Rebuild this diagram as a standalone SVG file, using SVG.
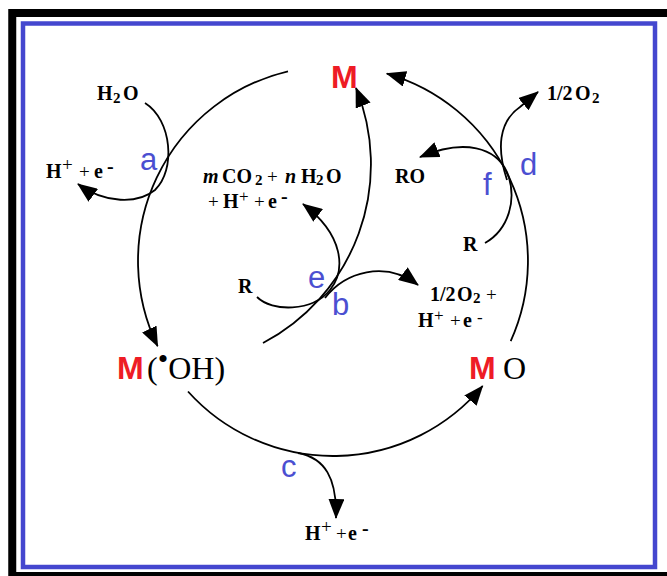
<svg xmlns="http://www.w3.org/2000/svg" width="667" height="576" viewBox="0 0 667 576">
<defs>
<marker id="ah" markerUnits="userSpaceOnUse" markerWidth="20" markerHeight="16" viewBox="0 0 20 16" refX="19" refY="8" orient="auto"><path d="M0,0 L20,8 L0,16 z" fill="#000"/></marker>
<style>
.ln{fill:none;stroke:#000;stroke-width:1.8;marker-end:url(#ah)}
.t{font-family:"Liberation Serif","Times New Roman",serif;font-weight:bold;font-size:20px;fill:#000}
.s{font-size:15px}
.p{font-size:19px;font-weight:normal}
.u{font-size:17px;font-weight:normal}
.i{font-style:italic}
.lbl{font-family:"Liberation Sans",Arial,sans-serif;font-size:31px;fill:#4b4fd1}
.m{font-family:"Liberation Sans",Arial,sans-serif;font-weight:bold;font-size:32px;fill:#ee1c25}
.big{font-family:"Liberation Serif","Times New Roman",serif;font-size:32px;fill:#000}
</style>
</defs>
<g id="frame">
<rect x="12.25" y="13" width="700" height="563" fill="none" stroke="#000" stroke-width="8"/>
<rect x="23" y="23.5" width="632" height="543.5" fill="none" stroke="#4447cf" stroke-width="4.5"/>
</g>
<g id="connectors">
<path class="ln" d="M288,71.3 A195,195 0 0 0 157.6,346.2"/>
<path class="ln" d="M188,391.5 A195,195 0 0 0 482.6,386"/>
<path class="ln" d="M510.7,341.2 A195,195 0 0 0 386.8,73.6"/>
<path class="ln" d="M263,343 A202,202 0 0 0 356,88"/>
<path class="ln" d="M145,103 C172,120 176,170 155,190 C138,204 105,204 78,184"/>
<path class="ln" d="M298,453 C325,458 337,478 336,518"/>
<path class="ln" d="M257,297 C272,312 312,312 330,290 C346,270 344,235 303,204"/>
<path class="ln" d="M325,298 C345,272 385,260 418,285"/>
<path class="ln" d="M507,180 C497,150 498,122 520,107 L538,92"/>
<path class="ln" d="M485,243 C508,230 518,200 507,172 C496,148 465,138 420,157"/>
</g>
<g id="node-M">
<text class="m" x="331" y="88">M</text>
</g>
<g id="node-MOH">
<text class="m" x="117" y="379">M</text>
<text class="big" x="147" y="379">(<tspan font-size="30" dy="-10">•</tspan><tspan dy="10">OH)</tspan></text>
</g>
<g id="node-MO">
<text class="m" x="469" y="379">M</text>
<text class="big" x="503" y="379">O</text>
</g>
<g id="step-a">
<text class="lbl" x="140" y="170">a</text>
<text class="t"><tspan x="97" y="100">H</tspan><tspan class="s" x="113" y="103">2</tspan><tspan x="123" y="100">O</tspan></text>
<text class="t"><tspan x="46" y="178">H</tspan><tspan class="p" x="62" y="171">+</tspan><tspan class="p" x="79" y="178">+</tspan><tspan x="94" y="178">e</tspan><tspan x="107" y="173">-</tspan></text>
</g>
<g id="step-b">
<text class="lbl" x="332" y="315">b</text>
<text class="t"><tspan x="430" y="301">1/2</tspan><tspan x="457" y="301">O</tspan><tspan class="s" x="473" y="303">2</tspan><tspan class="p" x="486" y="301">+</tspan></text>
<text class="t"><tspan x="418" y="327">H</tspan><tspan class="u" x="434" y="321">+</tspan><tspan class="p" x="450" y="327">+</tspan><tspan x="463" y="327">e</tspan><tspan class="u" x="477" y="323" font-weight="bold">-</tspan></text>
</g>
<g id="step-c">
<text class="lbl" x="281" y="477">c</text>
<text class="t"><tspan x="305" y="540">H</tspan><tspan class="p" x="321" y="533">+</tspan><tspan class="p" x="336" y="540">+</tspan><tspan x="348" y="540">e</tspan><tspan x="362" y="535">-</tspan></text>
</g>
<g id="step-d">
<text class="lbl" x="520" y="175">d</text>
<text class="t"><tspan x="547" y="100">1/2</tspan><tspan x="575" y="100">O</tspan><tspan class="s" x="592" y="103">2</tspan></text>
</g>
<g id="step-e">
<text class="lbl" x="308" y="288">e</text>
<text class="t" x="238" y="293">R</text>
<text class="t"><tspan class="i" x="203" y="183">m</tspan><tspan x="222" y="183">CO</tspan><tspan class="s" x="255" y="185">2</tspan><tspan class="p" x="267" y="183">+</tspan><tspan class="i" x="285" y="183">n</tspan><tspan x="301" y="183">H</tspan><tspan class="s" x="316" y="185">2</tspan><tspan x="326" y="183">O</tspan></text>
<text class="t"><tspan class="p" x="208" y="208">+</tspan><tspan x="223" y="208">H</tspan><tspan class="u" x="239" y="202">+</tspan><tspan class="p" x="254" y="208">+</tspan><tspan x="268" y="208">e</tspan><tspan x="281" y="203">-</tspan></text>
</g>
<g id="step-f">
<text class="lbl" x="483" y="195">f</text>
<text class="t" x="395" y="183">RO</text>
<text class="t" x="463" y="251">R</text>
</g>
</svg>
